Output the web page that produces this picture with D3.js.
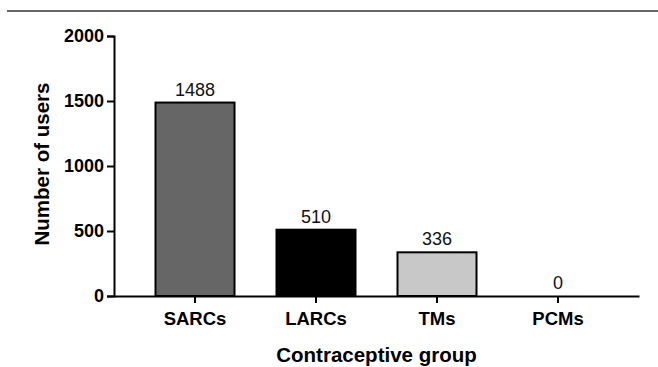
<!DOCTYPE html>
<html>
<head>
<meta charset="utf-8">
<script src="https://cdn.jsdelivr.net/npm/d3@7"></script>
<style>
  html, body { margin: 0; padding: 0; background: #fff; }
  svg { display: block; font-family: "Liberation Sans", Arial, sans-serif; }
</style>
</head>
<body>
<svg id="chart" width="658" height="367"></svg>
<script>
const categories = ["SARCs", "LARCs", "TMs", "PCMs"];
const users = [1488, 510, 336, 0];
const barColors = ["#666666", "#000000", "#c8c8c8", "#ffffff"];
const yTicks = [0, 500, 1000, 1500, 2000];

const svg = d3.select("#chart");

// top rule
svg.append("line")
  .attr("x1", 7).attr("x2", 658).attr("y1", 11).attr("y2", 11)
  .attr("stroke", "#333").attr("stroke-width", 1.5);

const x = d3.scaleBand().domain(categories).range([114, 639])
  .paddingInner(0.347).paddingOuter(0.343);
const y = d3.scaleLinear().domain([0, 2000]).range([296, 36]);

// bars
svg.append("g").selectAll("rect")
  .data(categories)
  .join("rect")
  .attr("x", d => x(d))
  .attr("width", x.bandwidth())
  .attr("y", (d, i) => y(users[i]))
  .attr("height", (d, i) => y(0) - y(users[i]))
  .attr("fill", (d, i) => barColors[i])
  .attr("stroke", "#000")
  .attr("stroke-width", 2);

// value labels
svg.append("g").selectAll("text")
  .data(categories)
  .join("text")
  .attr("x", d => x(d) + x.bandwidth() / 2)
  .attr("y", (d, i) => y(users[i]) - 7)
  .attr("text-anchor", "middle")
  .attr("font-size", 18)
  .attr("fill", "#111")
  .text((d, i) => users[i]);

// y axis
const yAxis = svg.append("g")
  .attr("transform", "translate(114,0)")
  .call(d3.axisLeft(y).tickValues(yTicks).tickSize(7).tickPadding(3).tickFormat(d3.format("d")));
yAxis.select(".domain").attr("stroke", "#000").attr("stroke-width", 2);
yAxis.selectAll(".tick line").attr("stroke", "#000").attr("stroke-width", 2);
yAxis.selectAll(".tick text")
  .attr("font-size", 18).attr("font-weight", "bold").attr("fill", "#000")
  .attr("font-family", "Liberation Sans, Arial, sans-serif");

// x axis
const xAxis = svg.append("g")
  .attr("transform", "translate(0,296)")
  .call(d3.axisBottom(x).tickSize(7).tickPadding(9).tickSizeOuter(0));
xAxis.select(".domain").attr("stroke", "#000").attr("stroke-width", 2);
xAxis.selectAll(".tick line").attr("stroke", "#000").attr("stroke-width", 2);
xAxis.selectAll(".tick text")
  .attr("font-size", 18.5).attr("font-weight", "bold").attr("fill", "#000")
  .attr("font-family", "Liberation Sans, Arial, sans-serif");

// axis titles
svg.append("text")
  .attr("x", 376.5).attr("y", 361.5)
  .attr("text-anchor", "middle")
  .attr("font-size", 20.5).attr("font-weight", "bold").attr("fill", "#000")
  .text("Contraceptive group");

svg.append("text")
  .attr("transform", "translate(49,164) rotate(-90)")
  .attr("text-anchor", "middle")
  .attr("font-size", 20.5).attr("font-weight", "bold").attr("fill", "#000")
  .text("Number of users");
</script>
</body>
</html>
